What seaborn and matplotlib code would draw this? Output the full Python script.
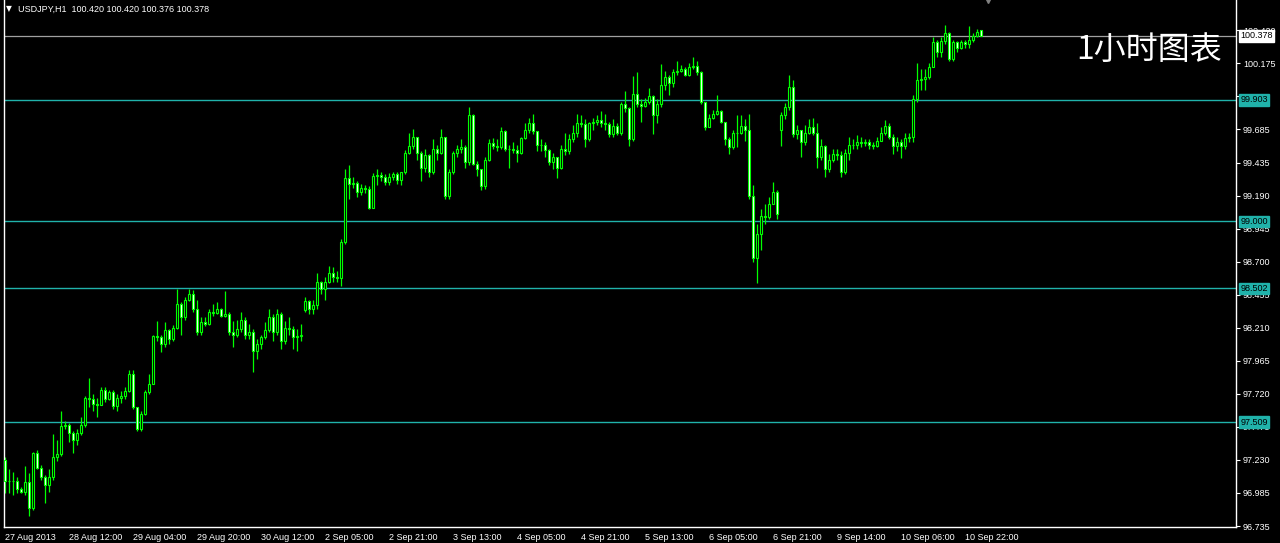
import numpy as np
import pandas as pd
import seaborn as sns
import matplotlib
matplotlib.use("Agg")
import matplotlib.pyplot as plt
import matplotlib.transforms as mtransforms

# USDJPY H1 candles, one bar per hour from 27 Aug 2013 20:00
opens = [
    97.23, 97.07, 97.07, 97.07, 97.01, 96.99, 97.065, 96.87, 97.28, 97.17,
    97.10, 97.04, 97.10, 97.25, 97.27, 97.48, 97.49, 97.43, 97.38, 97.43,
    97.49, 97.69, 97.68, 97.645, 97.64, 97.75, 97.68, 97.73, 97.63, 97.69,
    97.70, 97.74, 97.87, 97.62, 97.46, 97.57, 97.73, 97.79, 98.15, 98.14,
    98.09, 98.19, 98.13, 98.21, 98.39, 98.29, 98.42, 98.46, 98.35, 98.18,
    98.25, 98.24, 98.33, 98.32, 98.35, 98.30, 98.31, 98.18, 98.16, 98.20,
    98.27, 98.16, 98.18, 98.04, 98.09, 98.14, 98.19, 98.29, 98.18, 98.31,
    98.11, 98.21, 98.20, 98.14, 98.15, 98.34, 98.41, 98.35, 98.38, 98.55,
    98.50, 98.55, 98.62, 98.59, 98.58, 98.85, 99.32, 99.28, 99.285, 99.22,
    99.25, 99.24, 99.10, 99.34, 99.345, 99.33, 99.29, 99.33, 99.35, 99.31,
    99.365, 99.51, 99.56, 99.625, 99.51, 99.395, 99.49, 99.365, 99.54, 99.51,
    99.625, 99.19, 99.37, 99.51, 99.54, 99.55, 99.44, 99.79, 99.43, 99.39,
    99.26, 99.46, 99.58, 99.56, 99.55, 99.67, 99.54, 99.535, 99.53, 99.51,
    99.62, 99.68, 99.73, 99.67, 99.57, 99.565, 99.53, 99.44, 99.48, 99.395,
    99.54, 99.52, 99.61, 99.655, 99.73, 99.725, 99.61, 99.73, 99.74, 99.75,
    99.73, 99.725, 99.65, 99.71, 99.655, 99.87, 99.84, 99.61, 99.95, 99.87,
    99.86, 99.885, 99.93, 99.79, 99.87, 100.01, 100.07, 100.03, 100.11, 100.12,
    100.13, 100.09, 100.15, 100.155, 100.11, 99.885, 99.70, 99.77, 99.80, 99.82,
    99.74, 99.61, 99.55, 99.655, 99.66, 99.71, 99.68, 99.19, 98.73, 98.905,
    99.04, 99.03, 99.13, 99.22, 99.68, 99.79, 99.85, 100.00, 99.65, 99.68,
    99.59, 99.66, 99.70, 99.66, 99.48, 99.56, 99.39, 99.46, 99.50, 99.49,
    99.37, 99.51, 99.565, 99.57, 99.59, 99.585, 99.59, 99.565, 99.56, 99.60,
    99.66, 99.71, 99.63, 99.56, 99.59, 99.56, 99.62, 99.625, 99.91, 100.05,
    100.06, 100.07, 100.15, 100.33, 100.26, 100.34, 100.40, 100.21, 100.33, 100.29,
    100.33, 100.32, 100.35, 100.375, 100.420,
]
highs = [
    97.25, 97.16, 97.14, 97.10, 97.03, 97.18, 97.13, 97.29, 97.30, 97.19,
    97.12, 97.16, 97.42, 97.38, 97.59, 97.52, 97.50, 97.44, 97.46, 97.55,
    97.70, 97.84, 97.72, 97.69, 97.77, 97.77, 97.75, 97.75, 97.72, 97.74,
    97.77, 97.90, 97.90, 97.62, 97.59, 97.75, 97.87, 98.16, 98.26, 98.155,
    98.25, 98.20, 98.23, 98.50, 98.40, 98.44, 98.50, 98.49, 98.42, 98.29,
    98.29, 98.35, 98.39, 98.40, 98.36, 98.48, 98.33, 98.26, 98.27, 98.33,
    98.29, 98.24, 98.20, 98.13, 98.16, 98.25, 98.35, 98.31, 98.35, 98.33,
    98.26, 98.29, 98.22, 98.20, 98.24, 98.44, 98.42, 98.42, 98.62, 98.56,
    98.59, 98.67, 98.66, 98.63, 98.87, 99.39, 99.42, 99.33, 99.30, 99.28,
    99.27, 99.26, 99.36, 99.39, 99.37, 99.35, 99.36, 99.37, 99.365, 99.37,
    99.53, 99.66, 99.69, 99.63, 99.52, 99.54, 99.50, 99.61, 99.57, 99.69,
    99.63, 99.39, 99.52, 99.57, 99.61, 99.57, 99.85, 99.80, 99.45, 99.39,
    99.48, 99.61, 99.62, 99.61, 99.70, 99.68, 99.57, 99.59, 99.57, 99.63,
    99.73, 99.77, 99.80, 99.67, 99.61, 99.59, 99.54, 99.51, 99.48, 99.57,
    99.66, 99.65, 99.72, 99.80, 99.79, 99.76, 99.74, 99.77, 99.79, 99.82,
    99.80, 99.74, 99.76, 99.73, 99.89, 99.97, 99.85, 100.08, 100.11, 99.91,
    99.92, 99.99, 99.94, 99.91, 100.17, 100.115, 100.09, 100.13, 100.19, 100.16,
    100.145, 100.18, 100.22, 100.19, 100.115, 99.885, 99.80, 99.83, 99.94, 99.83,
    99.74, 99.625, 99.68, 99.79, 99.79, 99.76, 99.80, 99.27, 98.98, 99.09,
    99.13, 99.18, 99.29, 99.23, 99.81, 99.88, 100.09, 100.05, 99.72, 99.68,
    99.72, 99.76, 99.77, 99.73, 99.61, 99.57, 99.50, 99.54, 99.54, 99.52,
    99.54, 99.625, 99.61, 99.64, 99.625, 99.61, 99.61, 99.59, 99.625, 99.70,
    99.75, 99.73, 99.65, 99.625, 99.61, 99.655, 99.66, 99.94, 100.18, 100.13,
    100.13, 100.18, 100.37, 100.35, 100.37, 100.46, 100.41, 100.35, 100.34, 100.35,
    100.35, 100.45, 100.40, 100.43, 100.420,
]
lows = [
    96.98, 96.98, 96.97, 96.98, 96.98, 96.97, 96.81, 96.86, 97.16, 97.08,
    96.91, 96.99, 97.08, 97.22, 97.26, 97.46, 97.36, 97.28, 97.34, 97.41,
    97.47, 97.62, 97.59, 97.55, 97.64, 97.66, 97.67, 97.61, 97.59, 97.65,
    97.68, 97.73, 97.61, 97.44, 97.44, 97.56, 97.72, 97.79, 98.11, 98.03,
    98.07, 98.09, 98.11, 98.20, 98.155, 98.27, 98.41, 98.33, 98.16, 98.16,
    98.22, 98.23, 98.30, 98.31, 98.29, 98.29, 98.16, 98.07, 98.14, 98.18,
    98.13, 98.13, 97.88, 97.98, 98.05, 98.13, 98.18, 98.11, 98.16, 98.05,
    98.09, 98.16, 98.05, 98.04, 98.11, 98.33, 98.31, 98.31, 98.35, 98.46,
    98.42, 98.54, 98.55, 98.55, 98.52, 98.83, 99.165, 99.25, 99.18, 99.20,
    99.21, 99.09, 99.10, 99.27, 99.30, 99.27, 99.27, 99.31, 99.28, 99.27,
    99.35, 99.50, 99.54, 99.46, 99.30, 99.37, 99.33, 99.35, 99.46, 99.50,
    99.165, 99.165, 99.35, 99.48, 99.51, 99.40, 99.42, 99.42, 99.34, 99.23,
    99.24, 99.45, 99.54, 99.52, 99.54, 99.52, 99.40, 99.51, 99.44, 99.50,
    99.61, 99.66, 99.65, 99.52, 99.52, 99.48, 99.42, 99.39, 99.32, 99.39,
    99.49, 99.50, 99.59, 99.63, 99.70, 99.55, 99.60, 99.68, 99.72, 99.70,
    99.68, 99.63, 99.63, 99.64, 99.64, 99.81, 99.56, 99.60, 99.85, 99.74,
    99.85, 99.87, 99.65, 99.73, 99.85, 99.98, 99.94, 99.996, 100.09, 100.11,
    100.08, 100.08, 100.13, 100.09, 99.87, 99.68, 99.70, 99.76, 99.79, 99.73,
    99.57, 99.50, 99.54, 99.55, 99.65, 99.60, 99.165, 98.70, 98.54, 98.79,
    98.98, 99.02, 99.13, 99.02, 99.56, 99.76, 99.83, 99.625, 99.61, 99.48,
    99.57, 99.65, 99.64, 99.40, 99.46, 99.33, 99.37, 99.44, 99.46, 99.33,
    99.35, 99.46, 99.54, 99.54, 99.55, 99.56, 99.54, 99.54, 99.55, 99.60,
    99.64, 99.61, 99.50, 99.52, 99.47, 99.54, 99.59, 99.59, 99.89, 99.98,
    99.98, 100.06, 100.145, 100.22, 100.22, 100.32, 100.19, 100.19, 100.26, 100.28,
    100.29, 100.29, 100.33, 100.37, 100.376,
]
closes = [
    97.07, 97.07, 97.07, 97.01, 96.99, 97.065, 96.87, 97.28, 97.17, 97.10,
    97.04, 97.10, 97.25, 97.27, 97.48, 97.49, 97.43, 97.38, 97.43, 97.49,
    97.69, 97.68, 97.645, 97.64, 97.75, 97.68, 97.73, 97.63, 97.69, 97.70,
    97.74, 97.87, 97.62, 97.46, 97.57, 97.73, 97.79, 98.15, 98.14, 98.09,
    98.19, 98.13, 98.21, 98.39, 98.29, 98.42, 98.46, 98.35, 98.18, 98.25,
    98.24, 98.33, 98.32, 98.35, 98.30, 98.31, 98.18, 98.16, 98.20, 98.27,
    98.16, 98.18, 98.04, 98.09, 98.14, 98.19, 98.29, 98.18, 98.31, 98.11,
    98.21, 98.20, 98.14, 98.15, 98.16, 98.41, 98.35, 98.38, 98.55, 98.50,
    98.55, 98.62, 98.59, 98.58, 98.85, 99.32, 99.28, 99.285, 99.22, 99.25,
    99.24, 99.10, 99.34, 99.345, 99.33, 99.29, 99.33, 99.35, 99.31, 99.365,
    99.51, 99.56, 99.625, 99.51, 99.395, 99.49, 99.365, 99.54, 99.51, 99.625,
    99.19, 99.37, 99.51, 99.54, 99.55, 99.44, 99.79, 99.43, 99.39, 99.26,
    99.46, 99.58, 99.56, 99.55, 99.67, 99.54, 99.535, 99.53, 99.51, 99.62,
    99.68, 99.73, 99.67, 99.57, 99.565, 99.53, 99.44, 99.48, 99.395, 99.54,
    99.52, 99.61, 99.655, 99.73, 99.725, 99.61, 99.73, 99.74, 99.75, 99.73,
    99.725, 99.65, 99.71, 99.655, 99.87, 99.84, 99.61, 99.95, 99.87, 99.86,
    99.885, 99.93, 99.79, 99.87, 100.01, 100.07, 100.03, 100.11, 100.12, 100.13,
    100.09, 100.15, 100.155, 100.11, 99.885, 99.70, 99.77, 99.80, 99.82, 99.74,
    99.61, 99.55, 99.655, 99.66, 99.71, 99.68, 99.19, 98.73, 98.905, 99.04,
    99.03, 99.13, 99.22, 99.055, 99.79, 99.85, 100.00, 99.65, 99.68, 99.59,
    99.66, 99.70, 99.66, 99.48, 99.56, 99.39, 99.46, 99.50, 99.49, 99.37,
    99.51, 99.565, 99.57, 99.59, 99.585, 99.59, 99.565, 99.56, 99.60, 99.66,
    99.71, 99.63, 99.56, 99.59, 99.56, 99.62, 99.625, 99.91, 100.05, 100.06,
    100.07, 100.15, 100.33, 100.26, 100.34, 100.40, 100.21, 100.33, 100.29, 100.33,
    100.32, 100.35, 100.375, 100.41, 100.378,
]

# time axis labels (every 16 bars) and price axis ticks as MT4 prints them
time_tick_bars = [0, 16, 32, 48, 64, 80, 96, 112, 128, 144, 160, 176, 192, 208, 224, 240]
time_tick_labels = ["27 Aug 2013", "28 Aug 12:00", "29 Aug 04:00", "29 Aug 20:00",
                    "30 Aug 12:00", "2 Sep 05:00", "2 Sep 21:00", "3 Sep 13:00",
                    "4 Sep 05:00", "4 Sep 21:00", "5 Sep 13:00", "6 Sep 05:00",
                    "6 Sep 21:00", "9 Sep 14:00", "10 Sep 06:00", "10 Sep 22:00"]
price_ticks = [100.420, 100.175, 99.930, 99.685, 99.435, 99.190, 98.945, 98.700,
               98.455, 98.210, 97.965, 97.720, 97.475, 97.230, 96.985, 96.735]

levels = [99.903, 99.000, 98.502, 97.509]
bid = 100.378
header = "USDJPY,H1  100.420 100.420 100.376 100.378"
title_cn = "1小时图表"

df = pd.DataFrame({"open": opens, "high": highs, "low": lows, "close": closes})
assert len(df) == 245
df["bar"] = np.arange(len(df))
df["bull"] = df["close"] >= df["open"]

sns.set_theme(style="dark", rc={
    "axes.facecolor": "black",
    "figure.facecolor": "black",
    "savefig.facecolor": "black",
    "axes.edgecolor": "white",
    "text.color": "white",
    "xtick.color": "white",
    "ytick.color": "white",
})
plt.rcParams["font.family"] = ["Liberation Sans", "DejaVu Sans"]

LIME = "#00ff00"
CYAN = "#20b2aa"

fig = plt.figure(figsize=(12.8, 5.43), dpi=100)
ax = fig.add_axes([4 / 1280, 16 / 543, 1232 / 1280, 527 / 543])

# wicks
ax.vlines(df["bar"], df["low"], df["high"], color=LIME, linewidth=0.9, zorder=2)

# bodies: bull hollow, bear filled white
body_bottom = df[["open", "close"]].min(axis=1)
body_height = (df["close"] - df["open"]).abs()
faces = np.where(df["bull"], "black", "white")
ax.bar(df["bar"], body_height, bottom=body_bottom, width=0.6,
       color=faces, edgecolor=LIME, linewidth=0.8, zorder=3)

# horizontal levels and bid line
for lv in levels:
    ax.axhline(lv, color=CYAN, linewidth=1.0, zorder=1)
ax.axhline(bid, color="#a0a0a0", linewidth=0.9, zorder=1)

ax.set_xlim(-0.25, 307.75)
ax.set_ylim(96.73, 100.645)

# axes frame
for side in ["left", "bottom", "right"]:
    ax.spines[side].set_color("white")
    ax.spines[side].set_linewidth(1.0)
ax.spines["top"].set_visible(False)

ax.yaxis.tick_right()
ax.set_yticks(price_ticks)
ax.set_yticklabels([f"{p:.3f}" for p in price_ticks], fontsize=6.5, color="white")
ax.tick_params(axis="y", length=3, width=0.8, color="white", pad=2)

ax.set_xticks(time_tick_bars)
ax.set_xticklabels(time_tick_labels, fontsize=6.5, color="white", ha="left")
ax.tick_params(axis="x", length=3, width=0.8, color="white", pad=1.5)
ax.grid(False)

# price tags on the right scale
tag_tr = mtransforms.blended_transform_factory(ax.transAxes, ax.transData)
for lv in levels:
    ax.text(1.0035, lv, f"{lv:.3f}", transform=tag_tr, fontsize=6.5, color="black",
            va="center", ha="left", zorder=5, clip_on=False,
            bbox=dict(boxstyle="square,pad=0.15", fc=CYAN, ec=CYAN))
ax.text(1.0035, bid, f"{bid:.3f}", transform=tag_tr, fontsize=6.5, color="black",
        va="center", ha="left", zorder=5, clip_on=False,
        bbox=dict(boxstyle="square,pad=0.15", fc="white", ec="white"))

# chart shift marker at the top
ax.plot([0.7987], [1.0], transform=ax.transAxes, marker="v", markersize=5,
        color="#808080", clip_on=False, zorder=6)

# header and caption
fig.text(6 / 1280, 1 - 9 / 543, "\u25bc", fontsize=5.5, color="white",
         va="center", ha="left", family=["DejaVu Sans"])
fig.text(18 / 1280, 1 - 9 / 543, header, fontsize=6.5, color="white",
         va="center", ha="left")
fig.text(1222 / 1280, 1 - 50 / 543, title_cn, fontsize=23, color="white",
         va="center", ha="right", family=["Noto Sans CJK SC", "DejaVu Sans"],
         fontweight="light")

fig.savefig("out.png", dpi=100, facecolor="black")
